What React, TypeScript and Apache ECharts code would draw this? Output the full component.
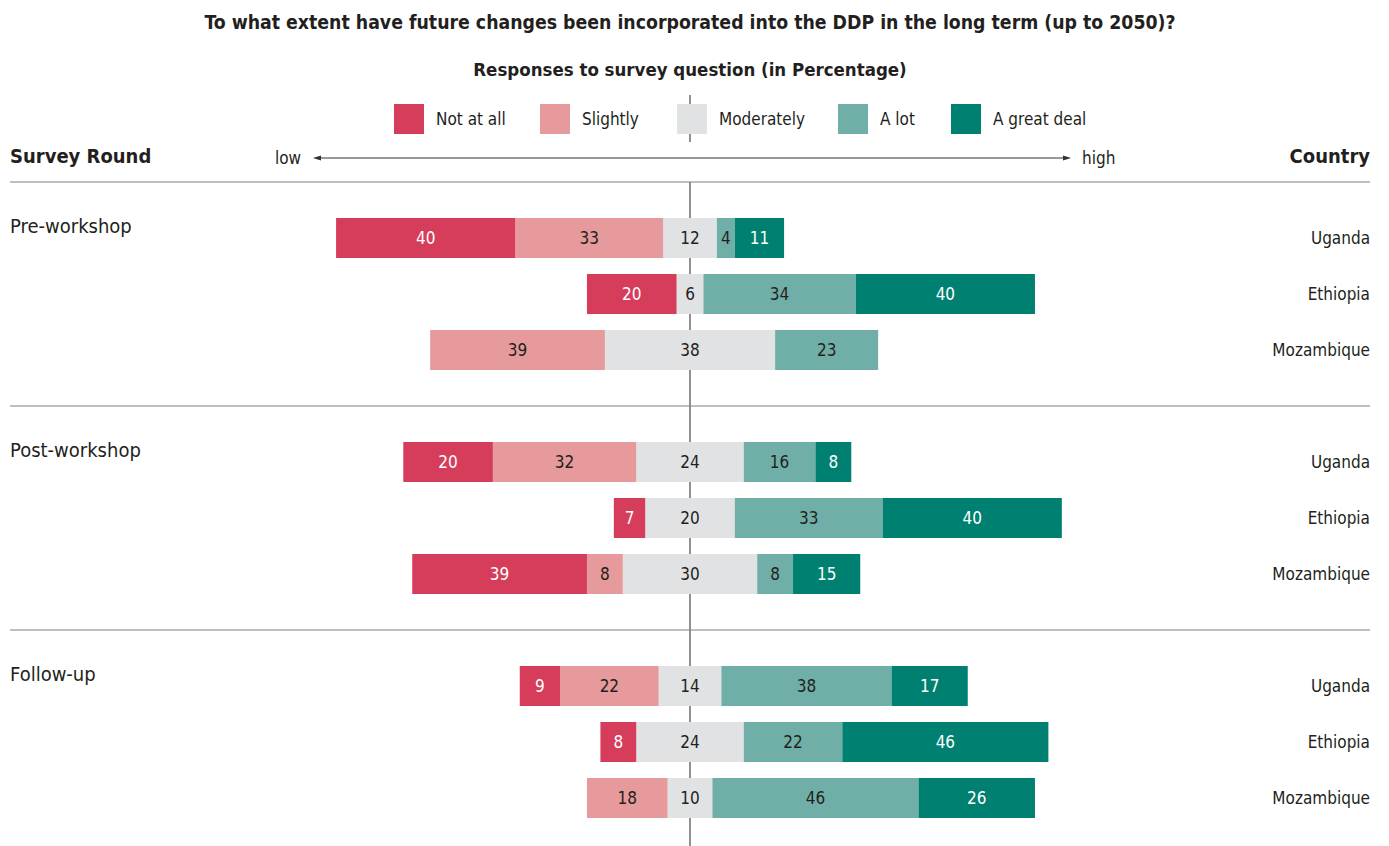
import React, { useEffect, useRef } from 'react';
import * as echarts from 'echarts';

const TITLE = 'To what extent have future changes been incorporated into the DDP in the long term (up to 2050)?';
const SUBTITLE = 'Responses to survey question (in Percentage)';
const rounds = ['Pre-workshop', 'Post-workshop', 'Follow-up'];
const countries = ['Uganda', 'Ethiopia', 'Mozambique'];
const levels = ['Not at all', 'Slightly', 'Moderately', 'A lot', 'A great deal'];
const levelColors = ['#D53D5A', '#E69A9B', '#E1E2E4', '#70AFA8', '#008070'];
// rows: Pre (Uganda, Ethiopia, Mozambique), Post (...), Follow-up (...)
const notAtAll = [40, 20, 0, 20, 7, 39, 9, 8, 0];
const slightly = [33, 0, 39, 32, 0, 8, 22, 0, 18];
const moderately = [12, 6, 38, 24, 20, 30, 14, 24, 10];
const aLot = [4, 34, 23, 16, 33, 8, 38, 22, 46];
const greatDeal = [11, 40, 0, 8, 40, 15, 17, 46, 26];

const FONT = '"DejaVu Sans Condensed", "Liberation Sans Narrow", "Liberation Sans", Arial, sans-serif';
const TXT = '#231F20';

// slot layout: 3 rows per round, one blank slot between rounds
const SLOTS = rounds.length * 4 - 1;
const slotOf = (row: number) => Math.floor(row / 3) * 4 + (row % 3);

function toSlots(vals: number[], sign: number, half = false) {
  const out: (number | null)[] = new Array(SLOTS).fill(null);
  vals.forEach((v, i) => {
    if (v) out[slotOf(i)] = sign * (half ? v / 2 : v);
  });
  return out;
}

const countryCats: string[] = [];
const roundCats: string[] = [];
for (let s = 0; s < SLOTS; s++) {
  const g = Math.floor(s / 4);
  const r = s % 4;
  countryCats.push(r < 3 ? countries[r] : '');
  roundCats.push(r === 0 ? rounds[g] : '');
}

export default function App() {
  const ref = useRef<HTMLDivElement>(null);
  useEffect(() => {
    if (!ref.current) return;
    const chart = echarts.init(ref.current, undefined, { renderer: 'svg' });
    const labelStyle = (color: string) => ({
      show: true,
      position: 'inside',
      color,
      fontSize: 17,
      fontFamily: FONT,
      formatter: (p: any) => (p.value ? String(Math.abs(p.value)) : ''),
    });
    const bar = (name: string, data: (number | null)[], color: string, label: any) => ({
      name,
      type: 'bar',
      stack: 'total',
      barWidth: 40,
      data,
      itemStyle: { color },
      label,
      z: 3,
    });
    const legendX = [394, 540, 677, 838, 951];
    const option: any = {
      animation: false,
      grid: { left: 242, right: 251, top: 210, bottom: 20 },
      xAxis: { type: 'value', min: -100, max: 100, show: false },
      yAxis: [
        {
          type: 'category',
          data: countryCats,
          inverse: true,
          position: 'right',
          axisLine: { show: false },
          axisTick: { show: false },
          axisLabel: { align: 'right', margin: 232, fontSize: 17, color: TXT, fontFamily: FONT },
        },
        {
          type: 'category',
          data: roundCats,
          inverse: true,
          position: 'left',
          axisLine: { show: false },
          axisTick: { show: false },
          axisLabel: {
            align: 'left',
            margin: 232,
            fontSize: 20,
            color: TXT,
            fontFamily: FONT,
            verticalAlign: 'bottom',
            lineHeight: 24,
          },
        },
      ],
      legend: levels.map((l, i) => ({
        data: [l],
        left: legendX[i],
        top: 104,
        itemWidth: 30,
        itemHeight: 30,
        icon: 'rect',
        selectedMode: false,
        padding: 0,
        textStyle: { fontSize: 17, color: TXT, fontFamily: FONT, padding: [0, 0, 0, 7] },
      })),
      series: [
        bar('Moderately', toSlots(moderately, -1, true), levelColors[2], { show: false }),
        bar('Moderately', toSlots(moderately, 1, true), levelColors[2], { show: false }),
        bar('Slightly', toSlots(slightly, -1), levelColors[1], labelStyle(TXT)),
        bar('A lot', toSlots(aLot, 1), levelColors[3], labelStyle(TXT)),
        bar('Not at all', toSlots(notAtAll, -1), levelColors[0], labelStyle('#ffffff')),
        bar('A great deal', toSlots(greatDeal, 1), levelColors[4], labelStyle('#ffffff')),
        {
          name: 'modLabels',
          type: 'scatter',
          symbolSize: 2,
          itemStyle: { color: 'rgba(0,0,0,0)', opacity: 1 },
          data: moderately.map((v, i) => [0, slotOf(i), v]),
          label: {
            show: true,
            position: 'inside',
            color: TXT,
            opacity: 1,
            textBorderWidth: 0,
            fontSize: 17,
            fontFamily: FONT,
            formatter: (p: any) => String(p.value[2]),
          },
          z: 5,
        },
      ],
    };
    chart.setOption(option);

    const x0 = chart.convertToPixel({ xAxisIndex: 0 }, 0) as number;
    const yFirst = chart.convertToPixel({ yAxisIndex: 0 }, 0) as number;
    const ySecond = chart.convertToPixel({ yAxisIndex: 0 }, 1) as number;
    const pitch = ySecond - yFirst;
    const sepYs = [yFirst - pitch];
    for (let g = 1; g < rounds.length; g++) sepYs.push(chart.convertToPixel({ yAxisIndex: 0 }, g * 4 - 1) as number);

    const text = (t: string, x: number, y: number, size: number, bold: boolean, align = 'left') => ({
      type: 'text',
      x,
      y,
      z: 10,
      style: {
        text: t,
        fill: TXT,
        fontSize: size,
        fontWeight: bold ? 'bold' : 'normal',
        fontFamily: FONT,
        align,
        textAlign: align,
        verticalAlign: 'middle',
        textVerticalAlign: 'middle',
      },
    });
    const graphics: any[] = [
      text(TITLE, x0, 22, 19.3, true, 'center'),
      text(SUBTITLE, x0, 69, 18.5, true, 'center'),
      text('Survey Round', 10, 156, 20, true),
      text('Country', 1370, 156, 20, true, 'right'),
      text('low', 275, 158, 17, false),
      text('high', 1082, 158, 17, false),
      { type: 'line', shape: { x1: 318, y1: 158, x2: 1066, y2: 158 }, style: { stroke: '#333', lineWidth: 1 } },
      { type: 'polygon', shape: { points: [[313, 158], [321, 155.5], [321, 160.5]] }, style: { fill: '#333' } },
      { type: 'polygon', shape: { points: [[1071, 158], [1063, 155.5], [1063, 160.5]] }, style: { fill: '#333' } },
      { type: 'line', shape: { x1: x0, y1: 95, x2: x0, y2: 142 }, style: { stroke: '#222', lineWidth: 1 } },
      { type: 'line', shape: { x1: x0, y1: sepYs[0], x2: x0, y2: 846 }, style: { stroke: '#222', lineWidth: 1 } },
      ...sepYs.map((y) => ({
        type: 'line',
        shape: { x1: 10, y1: y, x2: 1370, y2: y },
        style: { stroke: '#808080', lineWidth: 1.2 },
      })),
    ];
    chart.setOption({ graphic: graphics });
    return () => chart.dispose();
  }, []);
  return (
    <div
      ref={ref}
      style={{ position: 'fixed', left: 0, top: 0, width: 1389, height: 846, background: '#fff' }}
    />
  );
}
